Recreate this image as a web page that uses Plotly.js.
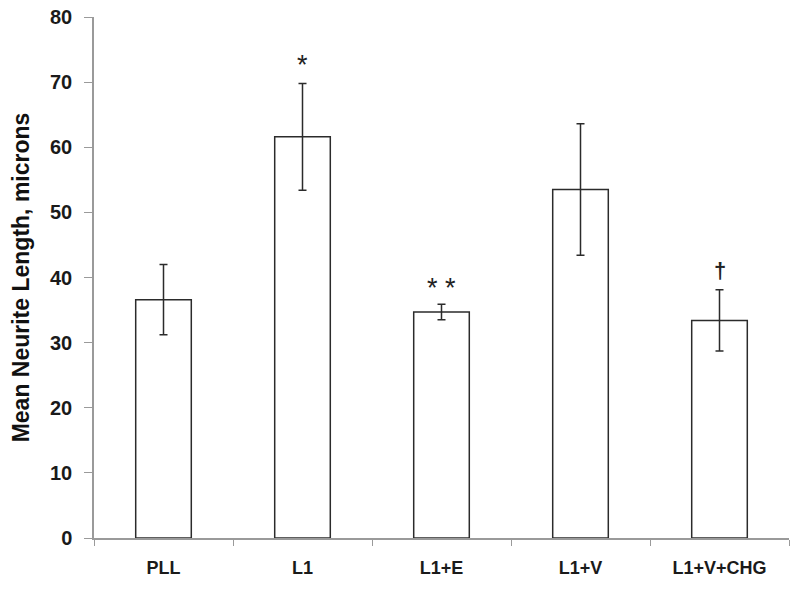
<!DOCTYPE html>
<html>
<head>
<meta charset="utf-8">
<script src="https://cdn.plot.ly/plotly-3.0.1.min.js"></script>
<style>
  html, body { margin: 0; padding: 0; background: #fff; }
  #chart { width: 800px; height: 589px; }
</style>
</head>
<body>
<div id="chart"></div>
<script>
// Datos
const groups = ['PLL', 'L1', 'L1+E', 'L1+V', 'L1+V+CHG'];
const meanLength = [36.6, 61.6, 34.7, 53.5, 33.4];
const errLength = [5.4, 8.2, 1.2, 10.1, 4.7];
const marks = ['', '*', '* *', '', '\u2020'];
const markY = [null, 72.6, 38.4, null, 41.0];

const barTrace = {
    x: groups,
    y: meanLength,
    type: 'bar',
    marker: {
        color: '#ffffff',
        line: { color: '#2b2b2b', width: 1.5 }
    },
    error_y: {
        type: 'data',
        array: errLength,
        visible: true,
        color: '#2b2b2b',
        thickness: 1.5,
        width: 4
    },
    hoverinfo: 'x+y'
};

// Marcas de significancia
const annotations = [];
groups.forEach(function(g, i) {
    if (marks[i]) {
        const isDagger = marks[i] === '\u2020';
        annotations.push({
            x: g,
            y: markY[i],
            xref: 'x',
            yref: 'y',
            text: isDagger ? '<b>' + marks[i] + '</b>' : marks[i],
            showarrow: false,
            font: { family: 'Liberation Sans, Arial, sans-serif', size: isDagger ? 22 : 27, color: '#222' }
        });
    }
});

const layout = {
    width: 800,
    height: 589,
    paper_bgcolor: '#ffffff',
    plot_bgcolor: '#ffffff',
    margin: { t: 17, r: 11, b: 51, l: 94 },
    bargap: 0.6,
    showlegend: false,
    font: { family: 'Liberation Sans, Arial, sans-serif', color: '#222' },
    xaxis: {
        type: 'category',
        showgrid: false,
        showline: true,
        linecolor: '#9a9a9a',
        linewidth: 1.5,
        ticks: 'outside',
        tickson: 'boundaries',
        ticklen: 6,
        tickcolor: '#9a9a9a',
        ticklabelstandoff: 13,
        tickfont: { size: 18, color: '#1a1a1a', weight: 'bold' },
        zeroline: false
    },
    yaxis: {
        range: [0, 80],
        dtick: 10,
        showgrid: false,
        showline: true,
        linecolor: '#9a9a9a',
        linewidth: 1.5,
        ticks: 'outside',
        ticklen: 8,
        tickcolor: '#9a9a9a',
        ticklabelstandoff: 8,
        tickfont: { size: 20, color: '#1a1a1a', weight: 'bold' },
        zeroline: false,
        title: {
            text: 'Mean Neurite Length, microns',
            font: { size: 23, color: '#111', weight: 'bold' },
            standoff: 14
        }
    },
    annotations: annotations
};

Plotly.newPlot('chart', [barTrace], layout, { displayModeBar: false, responsive: false });
</script>
</body>
</html>
